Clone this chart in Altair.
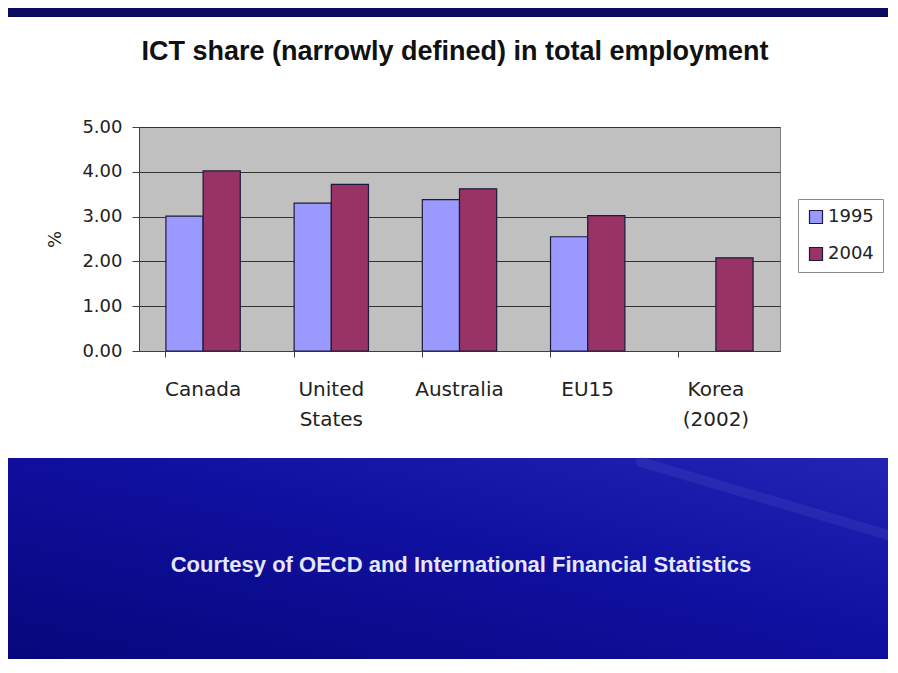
import altair as alt
import pandas as pd

# ---- data ----
countries = ["Canada", "United States", "Australia", "EU15", "Korea (2002)"]
years = ["1995", "2004"]
share_1995 = [3.01, 3.30, 3.38, 2.55, None]
share_2004 = [4.02, 3.72, 3.62, 3.02, 2.08]
y_ticks = [0, 1, 2, 3, 4, 5]
bar_colors = ["#9999FF", "#993366"]

title_text = "ICT share (narrowly defined) in total employment"
caption_text = "Courtesy of OECD and International Financial Statistics"
y_title = "%"

rows = []
for c, a, b in zip(countries, share_1995, share_2004):
    if a is not None:
        rows.append({"country": c, "year": years[0], "value": a})
    if b is not None:
        rows.append({"country": c, "year": years[1], "value": b})
df = pd.DataFrame(rows)

W, H = 641, 224
PAD = {"left": 131, "top": 119, "right": 108, "bottom": 308}

one = alt.Data(values=[{"t": title_text, "c": caption_text}])

# decorative slide background pieces
top_strip = alt.Chart(one).mark_rect(fill="#0a0a5e").encode(
    x=alt.value(-131), x2=alt.value(W + PAD["right"]),
    y=alt.value(-119), y2=alt.value(-110),
)
bottom_area = alt.Chart(one).mark_rect(
    fill=alt.Gradient(
        gradient="linear",
        stops=[alt.GradientStop(color="#2424b4", offset=0),
               alt.GradientStop(color="#1010a0", offset=0.45),
               alt.GradientStop(color="#07077c", offset=1)],
        x1=1, y1=0, x2=0, y2=1,
    )
).encode(
    x=alt.value(-131), x2=alt.value(W + PAD["right"]),
    y=alt.value(331), y2=alt.value(H + PAD["bottom"]),
)
streak = alt.Chart(one).mark_rule(color="#7a7ae0", strokeWidth=10, opacity=0.13, strokeCap="round").encode(
    x=alt.value(502), x2=alt.value(W + PAD["right"]),
    y=alt.value(335), y2=alt.value(408),
)

bars = alt.Chart(df).mark_bar(stroke="#1a1a3a", strokeWidth=1.2).encode(
    x=alt.X("country:N", sort=countries,
            scale=alt.Scale(paddingInner=0.42, paddingOuter=0.21),
            axis=alt.Axis(title=None, labelAngle=0, bandPosition=0,
                          labelExpr="split(datum.label, ' ')",
                          labelFont="DejaVu Sans", labelFontSize=20,
                          labelColor="#222222", labelLineHeight=30,
                          labelPadding=22, tickSize=6, tickColor="#404040",
                          domainColor="#404040", labelBaseline="top")),
    xOffset=alt.XOffset("year:N", sort=years),
    y=alt.Y("value:Q", scale=alt.Scale(domain=[0, 5], nice=False),
            axis=alt.Axis(title=y_title, values=y_ticks, format=".2f",
                          labelFont="DejaVu Sans", labelFontSize=18,
                          labelColor="#222222", labelPadding=10,
                          tickSize=7, tickColor="#404040",
                          domainColor="#404040",
                          grid=True, gridColor="#333333", gridWidth=1.2,
                          titleFont="DejaVu Sans", titleFontSize=18,
                          titleFontWeight="normal", titleColor="#222222",
                          titleAngle=270, titleX=-84, titleY=112,
                          titleAlign="center", titleBaseline="middle")),
    color=alt.Color("year:N", sort=years,
                    scale=alt.Scale(domain=years, range=bar_colors),
                    legend=alt.Legend(title=None, orient="none",
                                      legendX=659, legendY=72,
                                      symbolType="square", symbolSize=169,
                                      symbolStrokeColor="#1a1a3a",
                                      symbolStrokeWidth=1.2,
                                      labelFont="DejaVu Sans", labelFontSize=18,
                                      labelColor="#222222", labelOffset=3,
                                      rowPadding=19, padding=9,
                                      strokeColor="#8c8c8c", fillColor="#ffffff")),
)

title = alt.Chart(one).mark_text(
    font="Liberation Sans", fontSize=27, fontWeight="bold", color="#111111",
    align="center", baseline="alphabetic",
).encode(text="t:N", x=alt.value(316), y=alt.value(-67))

caption = alt.Chart(one).mark_text(
    font="Liberation Sans", fontSize=22, fontWeight="bold", color="#e6e6ff",
    align="center", baseline="alphabetic",
).encode(text="c:N", x=alt.value(322), y=alt.value(445))

chart = alt.layer(top_strip, bottom_area, streak, bars, title, caption).properties(
    width=W, height=H,
    autosize=alt.AutoSizeParams(type="none"),
    padding=PAD,
    background="#ffffff",
).configure_view(fill="#C0C0C0", stroke="#808080", strokeWidth=1)

chart.save("out.html", embed_options={"renderer": "svg", "actions": False})
